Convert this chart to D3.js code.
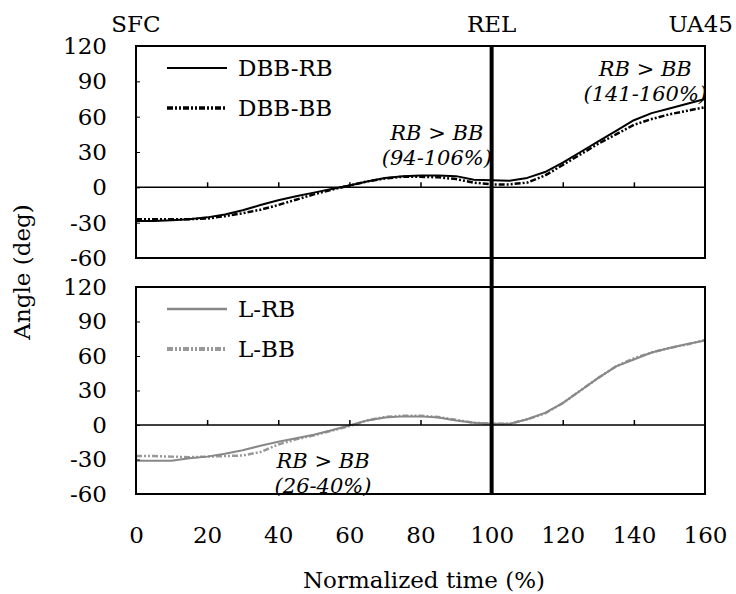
<!DOCTYPE html>
<html>
<head>
<meta charset="utf-8">
<script src="https://cdn.jsdelivr.net/npm/d3@7"></script>
<style>
  body { margin: 0; background: #fff; }
  svg { display: block; }
  text { font-family: "DejaVu Serif", "Liberation Serif", serif; fill: #000; }
</style>
</head>
<body>
<svg id="chart" width="736" height="594"></svg>
<script>
// Normalized time (%) at which each angle was sampled
const times = [0, 5, 10, 15, 20, 25, 30, 35, 40, 45, 50, 55, 60, 65, 70, 75, 80,
               85, 90, 95, 100, 105, 110, 115, 120, 125, 130, 135, 140, 145, 150, 155, 160];

// Upper panel: DBB angles (deg)
const dbbRB = [-28.5, -28.5, -28, -27, -25.5, -23, -19.5, -15, -11, -7.5, -4.5, -1.5, 1.5, 5, 8, 9.5, 10,
               10, 9.5, 6.5, 6, 5.5, 8, 13, 21, 30, 39, 48, 57, 63, 67, 71, 75];
const dbbBB = [-27, -27, -27, -27, -26.5, -24.5, -22, -19, -15, -10.5, -6, -2, 1.5, 5, 7.5, 9, 9,
               8.5, 7, 4, 2.5, 2.5, 4, 10, 19, 28, 37, 45, 53, 58, 62, 65, 68];

// Lower panel: L angles (deg)
const lRB = [-31, -31, -31, -29, -27.5, -25, -22, -18, -14.5, -11.5, -8.5, -4.5, -0.5, 4, 6.5, 7.5, 7.5,
             6.5, 4, 2, 1, 1, 5, 10.5, 19, 30, 41, 51, 57, 63, 67, 70.5, 73.5];
const lBB = [-27, -27, -27.5, -28, -27.5, -27, -26.5, -23.5, -17, -12.5, -9, -5, -1, 4, 7, 8, 8,
             7, 4.5, 2, 1, 1, 5, 10, 19, 30, 41, 51, 58, 63, 67, 70, 74];

const xTicks = [0, 20, 40, 60, 80, 100, 120, 140, 160];
const yTicks = [-60, -30, 0, 30, 60, 90, 120];
const phaseLabels = [
  { t: 0, text: "SFC", anchor: "middle" },
  { t: 100, text: "REL", anchor: "middle" },
  { t: 160, text: "UA45", anchor: "end" }
];

const svg = d3.select("#chart");
const FS = 23;      // upright labels
const FS_NOTE = 21; // italic notes

const x = d3.scaleLinear().domain([0, 160]).range([136, 705]);

const panels = [
  {
    y: d3.scaleLinear().domain([-60, 120]).range([258, 46]),
    series: [
      { name: "DBB-RB", values: dbbRB, color: "#000", width: 2, dash: null, legendWidth: 2 },
      { name: "DBB-BB", values: dbbBB, color: "#000", width: 2.5, dash: "6,2,2,2,2,2", legendWidth: 3.5 }
    ],
    notes: [
      { t: 84.6, v: 39.3, lines: ["RB > BB", "(94-106%)"] },
      { t: 143.2, v: 93.6, lines: ["RB > BB", "(141-160%)"] }
    ]
  },
  {
    y: d3.scaleLinear().domain([-60, 120]).range([494, 287]),
    series: [
      { name: "L-RB", values: lRB, color: "#888", width: 2, dash: null, legendWidth: 2.5 },
      { name: "L-BB", values: lBB, color: "#999", width: 2.5, dash: "6,2,2,2,2,2", legendWidth: 4 }
    ],
    notes: [
      { t: 52.6, v: -38.3, lines: ["RB > BB", "(26-40%)"] }
    ]
  }
];

panels.forEach(p => {
  const y = p.y;
  const g = svg.append("g");

  // series lines
  const line = d3.line().x((d, i) => x(times[i])).y(d => y(d));
  p.series.slice().reverse().forEach(s => {
    g.append("path")
      .datum(s.values)
      .attr("d", line)
      .attr("fill", "none")
      .attr("stroke", s.color)
      .attr("stroke-width", s.width)
      .attr("stroke-dasharray", s.dash)
      .attr("stroke-linejoin", "round");
  });

  // zero line with upward ticks
  g.append("line")
    .attr("x1", x(0)).attr("x2", x(160))
    .attr("y1", y(0)).attr("y2", y(0))
    .attr("stroke", "#000").attr("stroke-width", 1.5);
  const zeroAxis = g.append("g")
    .attr("transform", `translate(0,${y(0)})`)
    .call(d3.axisTop(x).tickValues(xTicks.slice(1, -1)).tickSize(5).tickFormat(""));
  zeroAxis.select(".domain").remove();
  zeroAxis.selectAll(".tick line").attr("stroke-width", 1.5);

  // left axis: inward ticks, labels to the left
  const yAxis = g.append("g")
    .attr("transform", `translate(${x(0)},0)`)
    .call(d3.axisLeft(y).tickValues(yTicks).tickSizeInner(-4).tickSizeOuter(0).tickPadding(29));
  yAxis.select(".domain").remove();
  yAxis.selectAll(".tick text")
    .attr("font-family", '"DejaVu Serif", serif')
    .attr("font-size", FS)
    .attr("fill", "#000")
    .text(d => d < 0 ? "-" + Math.abs(d) : d);

  // panel frame
  g.append("rect")
    .attr("x", x(0)).attr("y", y(120))
    .attr("width", x(160) - x(0)).attr("height", y(-60) - y(120))
    .attr("fill", "none").attr("stroke", "#000").attr("stroke-width", 2);

  // legend
  p.series.forEach((s, i) => {
    const ly = y(120) + 22 + i * 40;
    g.append("line")
      .attr("x1", 167).attr("x2", 227)
      .attr("y1", ly).attr("y2", ly)
      .attr("stroke", s.color)
      .attr("stroke-width", s.legendWidth)
      .attr("stroke-dasharray", s.dash);
    g.append("text")
      .attr("x", 238).attr("y", ly)
      .attr("dy", "0.36em")
      .attr("font-size", FS)
      .text(s.name);
  });

  // annotations, one text per line
  p.notes.forEach(n => {
    n.lines.forEach((ln, k) => {
      g.append("text")
        .attr("text-anchor", "middle")
        .attr("font-style", "italic")
        .attr("font-size", FS_NOTE)
        .attr("x", x(n.t))
        .attr("y", y(n.v) - 1 + k * 24.5)
        .text(ln);
    });
  });
});

// release marker
svg.append("line")
  .attr("x1", x(100)).attr("x2", x(100))
  .attr("y1", panels[0].y(120)).attr("y2", panels[1].y(-60))
  .attr("stroke", "#000").attr("stroke-width", 4);

// phase labels above the plot
phaseLabels.forEach(d => {
  svg.append("text")
    .attr("x", d.anchor === "end" ? 733 : x(d.t))
    .attr("y", 32)
    .attr("text-anchor", d.anchor)
    .attr("font-size", FS)
    .text(d.text);
});

// bottom x axis labels
const xAxis = svg.append("g")
  .attr("transform", `translate(0,${panels[1].y(-60)})`)
  .call(d3.axisBottom(x).tickValues(xTicks).tickSize(0).tickPadding(33));
xAxis.select(".domain").remove();
xAxis.selectAll(".tick text")
  .attr("font-family", '"DejaVu Serif", serif')
  .attr("font-size", FS)
  .attr("fill", "#000");

// axis titles
svg.append("text")
  .attr("x", 424).attr("y", 588)
  .attr("text-anchor", "middle")
  .attr("font-size", FS)
  .text("Normalized time (%)");

svg.append("text")
  .attr("transform", "translate(30,272) rotate(-90)")
  .attr("text-anchor", "middle")
  .attr("font-size", FS)
  .text("Angle (deg)");
</script>
</body>
</html>
